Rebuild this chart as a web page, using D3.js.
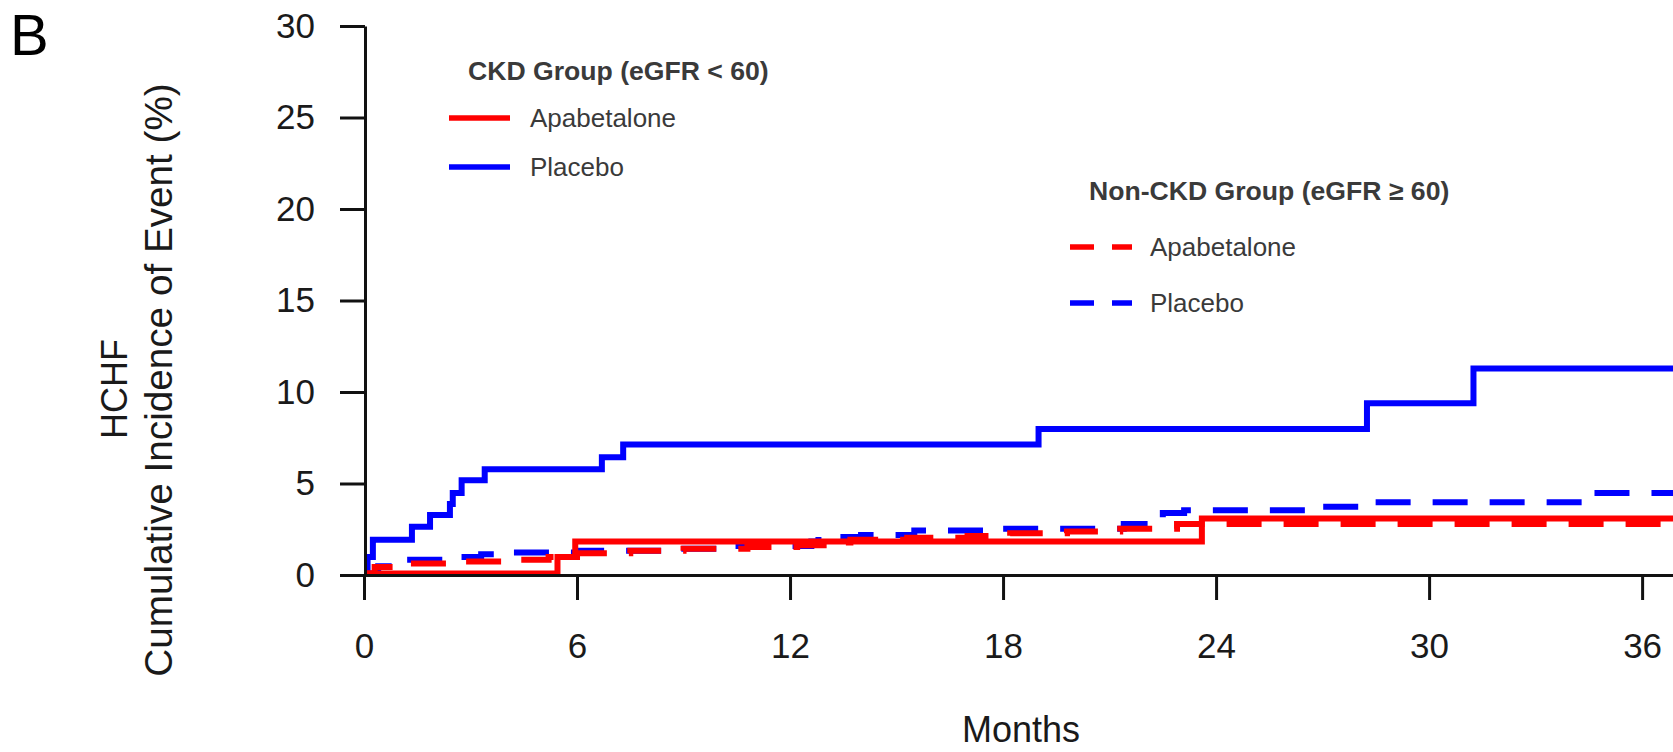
<html>
<head>
  <title>HCHF Cumulative Incidence</title>
  <meta charset="utf-8" />
<script src="https://d3js.org/d3.v7.min.js"></script>
</head>
<style>
  body { margin: 0; background: #fff; }
  svg { width: 1673px; height: 752px; display: block; }
  text { font-family: "Liberation Sans", Arial, sans-serif; }
</style>
<body>
<svg class="main"></svg>
</body>
<script>

const xTicks = [0, 6, 12, 18, 24, 30, 36]
const yTicks = [0, 5, 10, 15, 20, 25, 30]

// CKD group (eGFR < 60)
const ckdApaMonths   = [0, 5.45, 5.95, 23.6, 37]
const ckdApaValues   = [0, 0.9, 1.75, 3.0, 3.0]
const ckdPlaMonths   = [0, 0.1, 0.25, 1.35, 1.86, 2.42, 2.5, 2.75, 3.4, 6.7, 7.3, 19.0, 28.25, 31.25, 37]
const ckdPlaValues   = [0, 0.9, 1.85, 2.55, 3.2, 3.8, 4.4, 5.1, 5.7, 6.35, 7.05, 7.9, 9.3, 11.2, 11.2]

// Non-CKD group (eGFR >= 60)
const nonApaMonths   = [0, 0.3, 1.0, 2.5, 4.0, 5.2, 6.0, 7.5, 9.0, 10.8, 12.2, 13.2, 13.7, 15.3, 17.0, 18.2, 19.8, 21.3, 22.9, 37]
const nonApaValues   = [0, 0.35, 0.55, 0.65, 0.75, 0.9, 1.1, 1.25, 1.35, 1.45, 1.55, 1.7, 1.85, 1.95, 2.05, 2.2, 2.3, 2.45, 2.7, 2.7]
const nonPlaMonths   = [0, 0.4, 1.3, 2.6, 3.3, 4.2, 6.0, 8.5, 10.0, 12.6, 12.8, 14.0, 15.5, 18.0, 21.4, 22.5, 23.1, 27.0, 28.3, 34.3, 37]
const nonPlaValues   = [0, 0.4, 0.75, 0.9, 1.05, 1.15, 1.25, 1.35, 1.5, 1.75, 2.0, 2.1, 2.35, 2.45, 2.7, 3.3, 3.45, 3.65, 3.9, 4.4, 4.4]

const groupTitles = ["CKD Group (eGFR < 60)", "Non-CKD Group (eGFR \u2265 60)"]
const armLabels = ["Apabetalone", "Placebo"]

const red = "#ff0000"
const blue = "#0000ff"

const svg = d3.select("svg")

const x = d3.scaleLinear().domain([0, 36.87]).range([364, 1673])
const y = d3.scaleLinear().domain([0, 30]).range([575, 26])

const zip = (ms, vs) => ms.map((m, i) => ({ m: m, v: vs[i] }))

const series = [
  { pts: zip(ckdPlaMonths, ckdPlaValues), color: blue, dash: null },
  { pts: zip(nonPlaMonths, nonPlaValues), color: blue, dash: "35,22" },
  { pts: zip(nonApaMonths, nonApaValues), color: red, dash: "35,22" },
  { pts: zip(ckdApaMonths, ckdApaValues), color: red, dash: null }
]

const line = d3.line()
  .curve(d3.curveStepAfter)
  .x(d => x(d.m))
  .y(d => y(d.v) - 1.5)

// curves
svg.selectAll("path.curve")
  .data(series)
  .enter()
  .append("path")
  .attr("class", "curve")
  .attr("d", d => line(d.pts))
  .attr("fill", "none")
  .attr("stroke", d => d.color)
  .attr("stroke-width", 6)
  .attr("stroke-dasharray", d => d.dash)

// axes (on top of curves)
svg.append("g")
  .attr("transform", "translate(365,0)")
  .call(d3.axisLeft(y).tickValues(yTicks).tickSize(25).tickSizeOuter(0).tickPadding(25))
svg.append("g")
  .attr("transform", "translate(0,575)")
  .call(d3.axisBottom(x).tickValues(xTicks).tickSize(25).tickSizeOuter(0).tickPadding(33))

svg.selectAll(".domain, .tick line")
  .attr("stroke", "#111")
  .attr("stroke-width", 3)
svg.selectAll(".tick text")
  .attr("font-size", 35)
  .attr("fill", "#1a1a1a")
  .attr("font-family", "Liberation Sans, Arial, sans-serif")

// axis titles
svg.append("text")
  .attr("x", 1021).attr("y", 742)
  .attr("text-anchor", "middle")
  .attr("font-size", 36)
  .attr("fill", "#1a1a1a")
  .text("Months")

svg.append("text")
  .attr("transform", "translate(127,389) rotate(-90)")
  .attr("text-anchor", "middle")
  .attr("font-size", 36)
  .attr("fill", "#1a1a1a")
  .text("HCHF")

svg.append("text")
  .attr("transform", "translate(172,380) rotate(-90)")
  .attr("text-anchor", "middle")
  .attr("font-size", 38.7)
  .attr("fill", "#1a1a1a")
  .text("Cumulative Incidence of Event (%)")

svg.append("text")
  .attr("x", 10).attr("y", 55)
  .attr("font-size", 58)
  .attr("fill", "#000")
  .text("B")

// legends
const legends = [
  { title: groupTitles[0], tx: 468, ty: 80, lx: 449, lw: 61, textX: 530, rows: [118, 167], dash: null },
  { title: groupTitles[1], tx: 1089, ty: 200, lx: 1070, lw: 62, textX: 1150, rows: [247, 303], dash: "24,18" }
]
const armColors = [red, blue]

legends.forEach(lg => {
  svg.append("text")
    .attr("x", lg.tx).attr("y", lg.ty)
    .attr("font-size", 26.6)
    .attr("font-weight", "bold")
    .attr("fill", "#3a3a3a")
    .text(lg.title)

  armLabels.forEach((lab, i) => {
    svg.append("line")
      .attr("x1", lg.lx).attr("x2", lg.lx + lg.lw)
      .attr("y1", lg.rows[i]).attr("y2", lg.rows[i])
      .attr("stroke", armColors[i])
      .attr("stroke-width", 5.5)
      .attr("stroke-dasharray", lg.dash)
    svg.append("text")
      .attr("x", lg.textX).attr("y", lg.rows[i] + 9)
      .attr("font-size", 26)
      .attr("fill", "#3a3a3a")
      .text(lab)
  })
})

</script>
</html>
